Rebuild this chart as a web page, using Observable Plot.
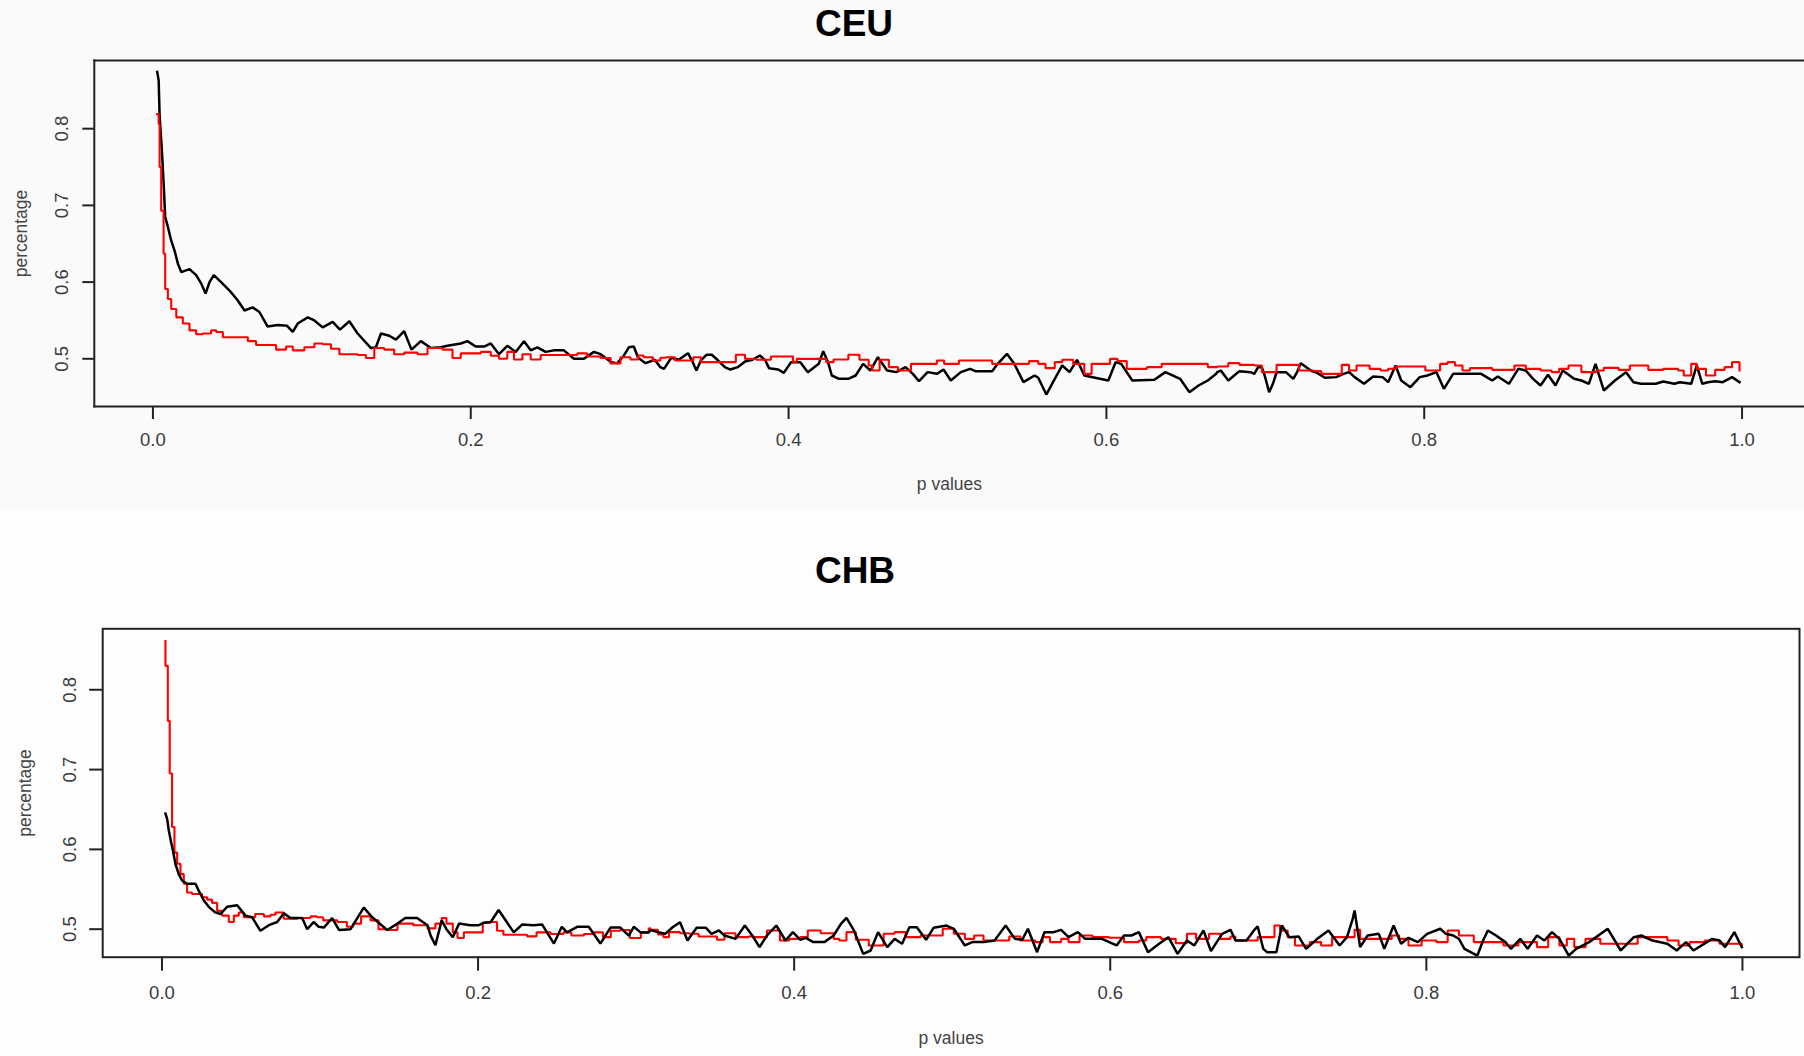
<!DOCTYPE html>
<html><head><meta charset="utf-8">
<script src="https://cdn.jsdelivr.net/npm/d3@7"></script>
<script src="https://cdn.jsdelivr.net/npm/@observablehq/plot@0.6"></script>
<style>
html,body{margin:0;padding:0;width:1804px;height:1056px;overflow:hidden;background:#fdfdfd;font-family:"Liberation Sans",Arial,sans-serif;}
.panel{position:absolute;left:0;width:1804px;}
.title{position:absolute;font-weight:bold;font-size:37px;color:#000;transform:translate(-50%,-50%);white-space:nowrap;line-height:1;}
.chart{position:absolute;left:0;}
</style></head><body>
<div id="p1" class="panel" style="top:0;height:510px;background:#fafafa"></div>
<div id="p2" class="panel" style="top:530px;height:526px;background:#fdfdfd"></div>
<script>
// ---- data: [p value, percentage] ----
const titles = ["CEU", "CHB"];
const xTicks = [0, 0.2, 0.4, 0.6, 0.8, 1.0];
const yTicks = [0.5, 0.6, 0.7, 0.8];
const xLabel = "p values";
const yLabel = "percentage";

const ceuBlack = [
[0.0027,0.874],[0.0036,0.863],[0.0042,0.817],[0.0057,0.769],[0.0069,0.722],[0.0077,0.685],[0.0094,0.672],[0.0115,0.654],[0.0136,0.641],[0.0157,0.624],[0.0178,0.613],[0.0230,0.617],[0.0272,0.609],[0.0304,0.598],[0.0331,0.585],[0.0356,0.600],[0.0383,0.609],[0.0429,0.600],[0.0482,0.589],[0.0534,0.576],[0.0576,0.563],[0.0628,0.567],[0.0670,0.561],[0.0722,0.542],[0.0785,0.544],[0.0844,0.543],[0.0880,0.535],[0.0911,0.546],[0.0974,0.554],[0.1016,0.550],[0.1068,0.541],[0.1131,0.548],[0.1177,0.538],[0.1236,0.549],[0.1288,0.533],[0.1372,0.514],[0.1403,0.515],[0.1435,0.533],[0.1487,0.530],[0.1529,0.525],[0.1581,0.536],[0.1627,0.512],[0.1686,0.523],[0.1749,0.514],[0.1811,0.515],[0.1853,0.517],[0.1937,0.520],[0.1979,0.523],[0.2031,0.516],[0.2084,0.516],[0.2126,0.520],[0.2178,0.506],[0.2230,0.517],[0.2283,0.509],[0.2335,0.523],[0.2377,0.511],[0.2419,0.515],[0.2471,0.509],[0.2524,0.511],[0.2586,0.511],[0.2649,0.500],[0.2712,0.500],[0.2775,0.509],[0.2817,0.506],[0.2880,0.496],[0.2921,0.494],[0.2963,0.504],[0.2995,0.515],[0.3026,0.516],
[0.3053,0.5013],[0.3100,0.4943],[0.3158,0.4987],[0.3193,0.4891],[0.3216,0.4869],[0.3262,0.5013],[0.3309,0.4987],[0.3367,0.5073],[0.3397,0.4956],[0.3420,0.4847],[0.3448,0.4978],[0.3483,0.5052],[0.3517,0.5052],[0.3552,0.4987],[0.3599,0.4891],[0.3633,0.4860],[0.3680,0.4891],[0.3726,0.4965],[0.3773,0.4987],[0.3819,0.5043],[0.3854,0.4978],[0.3877,0.4878],[0.3935,0.4860],[0.3970,0.4817],[0.4016,0.4956],[0.4074,0.4956],[0.4121,0.4826],[0.4190,0.4934],[0.4218,0.5100],[0.4248,0.4956],[0.4272,0.4782],[0.4318,0.4739],[0.4376,0.4739],[0.4422,0.4782],[0.4469,0.4934],[0.4515,0.4847],[0.4562,0.5021],[0.4620,0.4847],[0.4678,0.4826],[0.4736,0.4891],[0.4782,0.4804],[0.4821,0.4708],[0.4875,0.4826],[0.4933,0.4804],[0.4975,0.4860],[0.5021,0.4717],[0.5084,0.4826],[0.5142,0.4869],[0.5176,0.4839],[0.5281,0.4839],[0.5316,0.4934],[0.5374,0.5065],[0.5420,0.4934],[0.5478,0.4695],[0.5548,0.4782],[0.5571,0.4752],[0.5622,0.4534],[0.5664,0.4695],[0.5722,0.4913],[0.5768,0.4826],[0.5815,0.4987],[0.5861,0.4782],[0.6012,0.4717],[0.6058,0.4956],[0.6093,0.4934],[0.6163,0.4717],[0.6302,0.4726],[0.6371,0.4826],[0.6464,0.4739],[0.6522,0.4565],[0.6580,0.4652],[0.6638,0.4717],[0.6691,0.4804],
[0.6697,0.4826],[0.6720,0.4847],[0.6767,0.4717],[0.6837,0.4839],[0.6908,0.4826],[0.6931,0.4804],[0.6954,0.4891],[0.6978,0.4891],[0.6996,0.4782],[0.7024,0.4565],[0.7048,0.4674],[0.7071,0.4826],[0.7130,0.4826],[0.7176,0.4739],[0.7200,0.4826],[0.7223,0.4943],[0.7258,0.4891],[0.7293,0.4839],[0.7329,0.4813],[0.7375,0.4752],[0.7446,0.4761],[0.7492,0.4804],[0.7527,0.4826],[0.7562,0.4761],[0.7621,0.4674],[0.7679,0.4769],[0.7738,0.4761],[0.7773,0.4695],[0.7820,0.4913],[0.7855,0.4717],[0.7913,0.4630],[0.7972,0.4761],[0.8019,0.4782],[0.8077,0.4826],[0.8124,0.4608],[0.8182,0.4804],[0.8358,0.4804],[0.8428,0.4717],[0.8463,0.4769],[0.8533,0.4674],[0.8592,0.4869],[0.8639,0.4847],[0.8685,0.4739],[0.8732,0.4652],[0.8779,0.4791],[0.8826,0.4652],[0.8872,0.4847],[0.8943,0.4739],[0.8989,0.4717],[0.9036,0.4674],[0.9078,0.4934],[0.9130,0.4587],[0.9200,0.4717],[0.9270,0.4826],[0.9317,0.4695],[0.9364,0.4674],[0.9457,0.4674],[0.9504,0.4704],[0.9574,0.4674],[0.9609,0.4695],[0.9680,0.4674],[0.9715,0.4913],[0.9750,0.4674],[0.9785,0.4695],[0.9832,0.4708],[0.9879,0.4695],[0.9937,0.4761],[0.9984,0.4695]
];

const ceuRed = [
[0.0027,0.819],[0.0036,0.806],[0.0042,0.750],[0.0052,0.693],[0.0067,0.637],[0.0077,0.591],[0.0094,0.578],[0.0115,0.565],[0.0147,0.554],[0.0188,0.546],[0.0230,0.537],[0.0272,0.532],[0.0314,0.533],[0.0366,0.537],[0.0398,0.535],[0.0440,0.528],[0.0555,0.528],[0.0597,0.523],[0.0649,0.518],[0.0743,0.518],[0.0775,0.512],[0.0838,0.516],[0.0880,0.511],[0.0953,0.515],[0.1016,0.520],[0.1068,0.519],[0.1120,0.513],[0.1173,0.506],[0.1288,0.505],[0.1340,0.501],[0.1393,0.514],[0.1455,0.512],[0.1518,0.506],[0.1581,0.508],[0.1665,0.506],[0.1728,0.514],[0.1822,0.512],[0.1885,0.501],[0.1937,0.507],[0.2063,0.509],[0.2126,0.504],[0.2178,0.500],[0.2230,0.509],[0.2272,0.499],[0.2325,0.506],[0.2377,0.499],[0.2440,0.505],[0.2607,0.505],[0.2670,0.507],[0.2733,0.503],[0.2817,0.501],[0.2880,0.494],[0.2942,0.502],[0.3005,0.499],
[0.3053,0.5043],[0.3088,0.5021],[0.3146,0.4978],[0.3193,0.5013],[0.3227,0.5021],[0.3285,0.4978],[0.3401,0.5021],[0.3448,0.4956],[0.3633,0.4956],[0.3668,0.5052],[0.3726,0.4999],[0.3761,0.4999],[0.3796,0.4987],[0.3889,0.5030],[0.3981,0.5030],[0.4028,0.4956],[0.4051,0.4999],[0.4190,0.4999],[0.4237,0.4956],[0.4283,0.4991],[0.4376,0.5052],[0.4446,0.4987],[0.4504,0.4913],[0.4527,0.4847],[0.4573,0.4987],[0.4631,0.4891],[0.4689,0.4847],[0.4770,0.4934],[0.4910,0.4934],[0.4933,0.4978],[0.4979,0.4934],[0.5072,0.4978],[0.5211,0.4978],[0.5281,0.4934],[0.5374,0.4934],[0.5466,0.4934],[0.5513,0.4969],[0.5571,0.4934],[0.5617,0.4878],[0.5675,0.4956],[0.5722,0.4987],[0.5791,0.4934],[0.5861,0.4804],[0.5907,0.4934],[0.5977,0.4934],[0.6023,0.4999],[0.6070,0.4969],[0.6128,0.4869],[0.6255,0.4891],[0.6348,0.4934],[0.6580,0.4934],[0.6638,0.4891],[0.6691,0.4891],
[0.6697,0.4900],[0.6767,0.4943],[0.6837,0.4921],[0.6931,0.4913],[0.6978,0.4826],[0.7025,0.4826],[0.7071,0.4921],[0.7165,0.4921],[0.7212,0.4847],[0.7305,0.4839],[0.7352,0.4804],[0.7399,0.4804],[0.7481,0.4921],[0.7527,0.4847],[0.7574,0.4913],[0.7656,0.4869],[0.7726,0.4847],[0.7773,0.4869],[0.7820,0.4900],[0.7937,0.4900],[0.8007,0.4847],[0.8100,0.4934],[0.8147,0.4956],[0.8194,0.4913],[0.8241,0.4847],[0.8288,0.4878],[0.8428,0.4856],[0.8568,0.4913],[0.8639,0.4869],[0.8732,0.4847],[0.8802,0.4826],[0.8849,0.4869],[0.8908,0.4913],[0.8989,0.4826],[0.9083,0.4847],[0.9130,0.4882],[0.9223,0.4856],[0.9294,0.4913],[0.9352,0.4913],[0.9410,0.4856],[0.9504,0.4869],[0.9598,0.4847],[0.9633,0.4782],[0.9680,0.4934],[0.9715,0.4869],[0.9773,0.4782],[0.9831,0.4856],[0.9890,0.4891],[0.9937,0.4956],[0.9984,0.4847]
];

const chbBlack = [
[0.0022,0.645],[0.0033,0.638],[0.0043,0.624],[0.0058,0.609],[0.0071,0.597],[0.0085,0.582],[0.0106,0.569],[0.0127,0.561],[0.0159,0.557],[0.0212,0.557],[0.0233,0.548],[0.0265,0.536],[0.0296,0.528],[0.0338,0.521],[0.0370,0.519],[0.0412,0.528],[0.0476,0.530],[0.0528,0.517],[0.0570,0.515],[0.0623,0.498],[0.0676,0.505],[0.0729,0.509],[0.0771,0.520],[0.0813,0.514],[0.0887,0.514],[0.0919,0.500],[0.0960,0.509],[0.0992,0.503],[0.1024,0.502],[0.1077,0.514],[0.1120,0.499],[0.1193,0.500],[0.1277,0.527],[0.1330,0.515],[0.1425,0.499],[0.1490,0.507],[0.1540,0.514],[0.1614,0.514],[0.1680,0.505],[0.1700,0.492],[0.1730,0.480],[0.1770,0.511],[0.1800,0.500],[0.1840,0.490],[0.1880,0.507],[0.1950,0.505],[0.2005,0.505],[0.2036,0.508],[0.2080,0.509],[0.2130,0.524],[0.2226,0.496],[0.2280,0.506],[0.2350,0.505],[0.2405,0.506],[0.2480,0.482],[0.2530,0.503],[0.2563,0.496],[0.2627,0.503],[0.2700,0.503],[0.2774,0.482],[0.2838,0.502],[0.2900,0.502],[0.2954,0.492],[0.2985,0.503],[0.3028,0.496],[0.3080,0.496],
[0.3091,0.4988],[0.3138,0.4963],[0.3184,0.4942],[0.3231,0.5025],[0.3278,0.5088],[0.3325,0.4858],[0.3383,0.5017],[0.3442,0.5017],[0.3477,0.4942],[0.3524,0.4984],[0.3559,0.4921],[0.3629,0.4879],[0.3688,0.5046],[0.3735,0.4921],[0.3781,0.4775],[0.3828,0.4921],[0.3887,0.5046],[0.3945,0.4858],[0.3992,0.4963],[0.4039,0.4867],[0.4074,0.4892],[0.4121,0.4838],[0.4191,0.4838],[0.4250,0.4921],[0.4296,0.5067],[0.4331,0.5142],[0.4378,0.4984],[0.4437,0.4691],[0.4484,0.4733],[0.4531,0.4963],[0.4589,0.4775],[0.4636,0.4879],[0.4683,0.4817],[0.4729,0.5025],[0.4776,0.5025],[0.4835,0.4867],[0.4882,0.5017],[0.4964,0.5046],[0.5010,0.5005],[0.5080,0.4796],[0.5127,0.4838],[0.5198,0.4838],[0.5268,0.4858],[0.5338,0.5046],[0.5397,0.4879],[0.5443,0.4867],[0.5479,0.5005],[0.5537,0.4712],[0.5584,0.4963],[0.5642,0.4963],[0.5689,0.4992],[0.5736,0.4900],[0.5795,0.4963],[0.5841,0.4879],[0.5947,0.4879],[0.6040,0.4796],[0.6087,0.4921],[0.6134,0.4921],[0.6181,0.4963],[0.6239,0.4712],[0.6309,0.4817],[0.6368,0.4900],[0.6426,0.4691],[0.6485,0.4858],[0.6532,0.4796],[0.6590,0.4984],[0.6637,0.4725],[0.6708,0.4942],[0.6761,0.4992],
[0.6792,0.4858],[0.6862,0.4858],[0.6909,0.4984],[0.6933,0.5034],[0.6968,0.4754],[0.6992,0.4712],[0.7051,0.4712],[0.7086,0.5046],[0.7133,0.4900],[0.7192,0.4909],[0.7239,0.4754],[0.7310,0.4879],[0.7381,0.4984],[0.7451,0.4796],[0.7498,0.4900],[0.7534,0.5130],[0.7546,0.5234],[0.7581,0.4775],[0.7628,0.4921],[0.7699,0.4942],[0.7734,0.4754],[0.7793,0.5046],[0.7840,0.4817],[0.7887,0.4892],[0.7946,0.4838],[0.8005,0.4942],[0.8088,0.5005],[0.8123,0.4942],[0.8170,0.4921],[0.8206,0.4879],[0.8241,0.4754],[0.8323,0.4670],[0.8359,0.4858],[0.8389,0.4984],[0.8441,0.4921],[0.8500,0.4838],[0.8535,0.4754],[0.8594,0.4879],[0.8641,0.4754],[0.8700,0.4921],[0.8747,0.4858],[0.8795,0.4963],[0.8842,0.4879],[0.8901,0.4670],[0.8948,0.4754],[0.9030,0.4838],[0.9148,0.5005],[0.9230,0.4733],[0.9313,0.4900],[0.9360,0.4921],[0.9431,0.4858],[0.9525,0.4817],[0.9584,0.4733],[0.9643,0.4838],[0.9690,0.4733],[0.9808,0.4879],[0.9855,0.4858],[0.9890,0.4775],[0.9949,0.4963],[0.9985,0.4817],[0.9996,0.4775]
];

const chbRed = [
[0.0022,0.861],[0.0022,0.830],[0.0037,0.830],[0.0037,0.761],[0.0049,0.761],[0.0049,0.695],[0.0064,0.695],[0.0064,0.628],[0.0075,0.628],[0.0079,0.596],[0.0096,0.582],[0.0117,0.569],[0.0138,0.557],[0.0159,0.546],[0.0190,0.544],[0.0222,0.544],[0.0254,0.540],[0.0286,0.537],[0.0317,0.533],[0.0349,0.523],[0.0380,0.517],[0.0423,0.509],[0.0455,0.517],[0.0486,0.521],[0.0518,0.515],[0.0560,0.515],[0.0590,0.519],[0.0645,0.516],[0.0687,0.518],[0.0718,0.521],[0.0770,0.513],[0.0855,0.514],[0.0940,0.516],[0.0980,0.515],[0.1020,0.511],[0.1110,0.509],[0.1170,0.503],[0.1210,0.507],[0.1260,0.516],[0.1320,0.511],[0.1370,0.500],[0.1420,0.499],[0.1490,0.507],[0.1590,0.505],[0.1680,0.501],[0.1730,0.507],[0.1770,0.514],[0.1800,0.507],[0.1840,0.496],[0.1870,0.489],[0.1910,0.496],[0.1980,0.496],[0.2030,0.508],[0.2080,0.509],[0.2120,0.498],[0.2160,0.493],[0.2250,0.493],[0.2310,0.491],[0.2370,0.496],[0.2460,0.494],[0.2540,0.496],[0.2590,0.492],[0.2670,0.494],[0.2730,0.496],[0.2790,0.490],[0.2840,0.498],[0.2900,0.499],[0.2960,0.489],[0.3030,0.496],[0.3080,0.501],
[0.3091,0.4992],[0.3138,0.4934],[0.3173,0.4900],[0.3208,0.4963],[0.3278,0.4950],[0.3337,0.4942],[0.3395,0.4909],[0.3512,0.4867],[0.3559,0.4950],[0.3629,0.4900],[0.3711,0.4909],[0.3746,0.4900],[0.3828,0.4984],[0.3910,0.4858],[0.3969,0.4879],[0.4039,0.4900],[0.4086,0.4984],[0.4168,0.4950],[0.4250,0.4879],[0.4285,0.4858],[0.4331,0.4963],[0.4390,0.4867],[0.4472,0.4796],[0.4566,0.4942],[0.4636,0.4963],[0.4706,0.4900],[0.4800,0.4921],[0.4940,0.5005],[0.5010,0.4942],[0.5080,0.4879],[0.5139,0.4921],[0.5198,0.4858],[0.5291,0.4858],[0.5361,0.4909],[0.5432,0.4858],[0.5525,0.4838],[0.5572,0.4900],[0.5619,0.4838],[0.5689,0.4879],[0.5736,0.4838],[0.5806,0.4921],[0.5888,0.4900],[0.5993,0.4892],[0.6087,0.4838],[0.6181,0.4858],[0.6228,0.4900],[0.6321,0.4879],[0.6414,0.4825],[0.6485,0.4942],[0.6543,0.4879],[0.6625,0.4942],[0.6696,0.4879],[0.6761,0.4909],
[0.6792,0.4858],[0.6862,0.4858],[0.6933,0.4900],[0.6992,0.4900],[0.7039,0.5046],[0.7074,0.4984],[0.7122,0.4900],[0.7169,0.4796],[0.7263,0.4838],[0.7334,0.4796],[0.7404,0.4900],[0.7475,0.4900],[0.7546,0.4992],[0.7581,0.4879],[0.7711,0.4879],[0.7781,0.4921],[0.7828,0.4879],[0.7887,0.4796],[0.7970,0.4858],[0.8064,0.4838],[0.8135,0.4984],[0.8206,0.4921],[0.8300,0.4838],[0.8394,0.4838],[0.8488,0.4796],[0.8582,0.4838],[0.8700,0.4775],[0.8771,0.4900],[0.8842,0.4796],[0.8889,0.4879],[0.8936,0.4775],[0.9007,0.4879],[0.9101,0.4817],[0.9242,0.4817],[0.9337,0.4900],[0.9407,0.4900],[0.9525,0.4858],[0.9596,0.4796],[0.9666,0.4838],[0.9761,0.4858],[0.9855,0.4817],[0.9996,0.4796]
];

// ---- drawing ----
const FONT = "Liberation Sans, Arial, Helvetica, sans-serif";

function makePanel(cfg) {
  const host = document.getElementById(cfg.host);
  const t = document.createElement("div");
  t.className = "title";
  t.textContent = cfg.title;
  t.style.left = cfg.titleX + "px";
  t.style.top = cfg.titleY + "px";
  host.appendChild(t);

  const blackLine = Plot.line(cfg.black, {x: d => d[0], y: d => d[1], stroke: "#000", strokeWidth: 2.5, strokeLinejoin: "miter", strokeLinecap: "square"});
  const redLine = Plot.line(cfg.red, {x: d => d[0], y: d => d[1], curve: "step-after", stroke: "#ff0000", strokeWidth: 2.1, strokeLinejoin: "miter", strokeLinecap: "square"});
  const lines = cfg.redOnTop ? [blackLine, redLine] : [redLine, blackLine];

  const frames = cfg.fullFrame
    ? [Plot.frame({stroke: "#222", strokeWidth: 2})]
    : ["top", "left", "bottom"].map(a => Plot.frame({anchor: a, stroke: "#222", strokeWidth: 2}));

  const chart = Plot.plot({
    width: 1804,
    height: cfg.height,
    marginTop: cfg.mTop,
    marginBottom: cfg.mBottom,
    marginLeft: cfg.mLeft,
    marginRight: cfg.mRight,
    style: {fontFamily: FONT, fontSize: "18.5px", background: "transparent", overflow: "visible"},
    x: {domain: cfg.xDomain, label: null},
    y: {domain: cfg.yDomain, label: null},
    marks: [
      ...lines,
      Plot.axisX({ticks: xTicks, tickSize: cfg.xTickSize, tickPadding: cfg.xTickPad, tickFormat: d3.format(".1f"), label: null, stroke: "#222", strokeWidth: 2, fill: "#3a3a3a", fontSize: 18.5}),
      Plot.axisY({ticks: yTicks, tickSize: cfg.yTickSize, tickPadding: cfg.yTickPad, tickRotate: -90, tickFormat: d3.format(".1f"), label: null, stroke: "#222", strokeWidth: 2, fill: "#3a3a3a", fontSize: 18.5}),
      Plot.text([yLabel], {text: d => d, frameAnchor: "left", dx: cfg.yLabDx, rotate: -90, textAnchor: "middle", lineAnchor: "middle", fontSize: 17.5, fill: "#444"}),
      Plot.text([xLabel], {text: d => d, frameAnchor: "bottom", dy: cfg.xLabDy, textAnchor: "middle", lineAnchor: "middle", fontSize: 17.5, fill: "#444"}),
      ...frames
    ]
  });
  chart.classList.add("chart");
  chart.style.top = cfg.svgTop + "px";
  host.appendChild(chart);
}

makePanel({
  host: "p1", title: titles[0], titleX: 854, titleY: 23,
  svgTop: 47, height: 483, mTop: 13, mBottom: 124, mLeft: 93.8, mRight: 0,
  xDomain: [-0.0369, 1.0393], yDomain: [0.4378, 0.8889],
  xTickSize: 13, xTickPad: 13.3, yTickSize: 11.5, yTickPad: 14.6,
  yLabDx: -72.8, xLabDy: 78,
  black: ceuBlack, red: ceuRed, redOnTop: true, fullFrame: false
});

makePanel({
  host: "p2", title: titles[1], titleX: 855, titleY: 40,
  svgTop: 80, height: 446, mTop: 18.3, mBottom: 99.3, mLeft: 102.2, mRight: 5,
  xDomain: [-0.0375, 1.0361], yDomain: [0.4649, 0.8764],
  xTickSize: 14, xTickPad: 14.3, yTickSize: 13, yTickPad: 13.5,
  yLabDx: -77.2, xLabDy: 81.3,
  black: chbBlack, red: chbRed, redOnTop: false, fullFrame: true
});
</script>
</body></html>
